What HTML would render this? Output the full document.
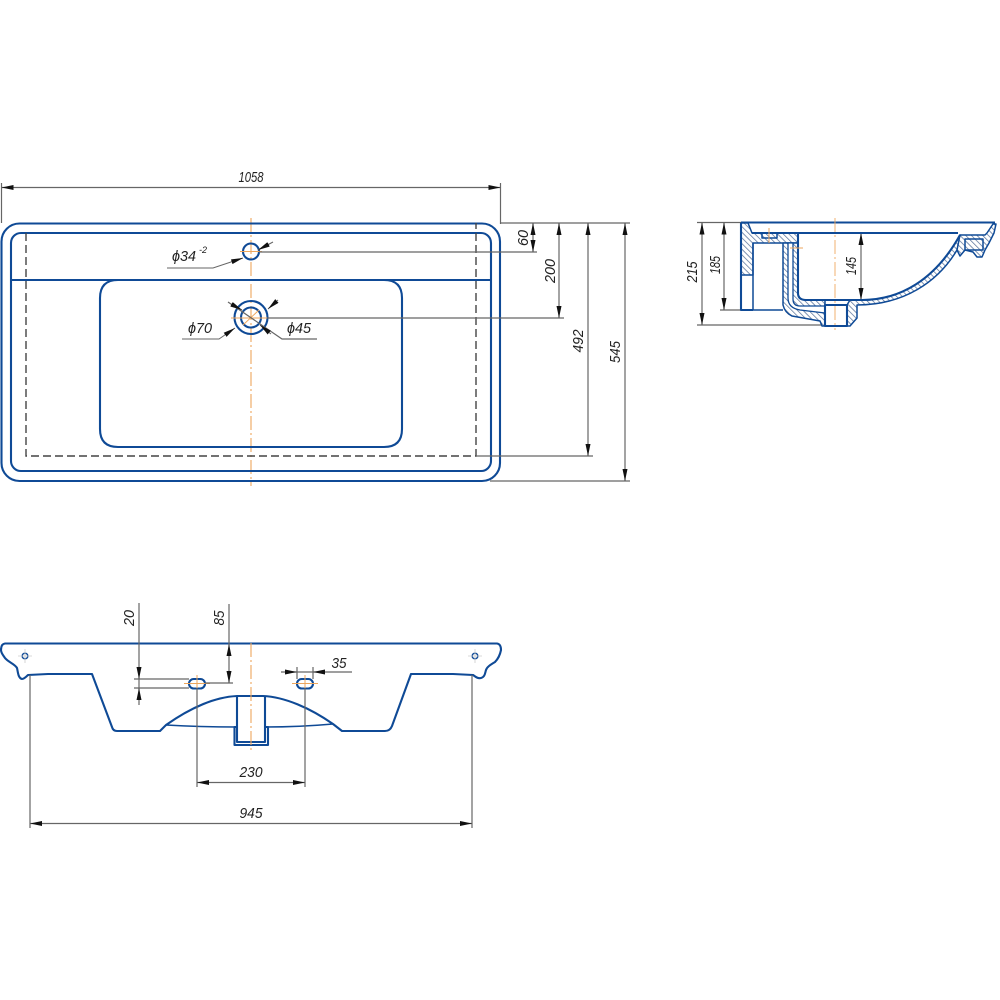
<!DOCTYPE html>
<html><head><meta charset="utf-8"><style>
html,body{margin:0;padding:0;background:#fff}
svg{display:block}
text{font-family:"Liberation Sans",sans-serif;font-style:italic;font-size:15px;fill:#222;text-anchor:middle}
.o{fill:none;stroke:#0f4a96;stroke-width:2.1;stroke-linejoin:round}
.t{fill:none;stroke:#0f4a96;stroke-width:1.5;stroke-linejoin:round}
.d{fill:none;stroke:#666;stroke-width:1.2}
.a{fill:none;stroke:#666;stroke-width:1.2;marker-start:url(#ar);marker-end:url(#ae)}
.m{fill:none;stroke:#666;stroke-width:1;marker-end:url(#ae)}
.c{fill:none;stroke:#eda65c;stroke-width:1.1;stroke-dasharray:14 3 2 3}
.k{fill:none;stroke:#444;stroke-width:1.4;stroke-dasharray:8 4}
.h{fill:url(#hatch);stroke:#0f4a96;stroke-width:1.5;stroke-linejoin:round}
</style></head><body>
<svg width="1000" height="1000" viewBox="0 0 1000 1000" xmlns="http://www.w3.org/2000/svg">
<defs>
<marker id="ae" markerUnits="userSpaceOnUse" markerWidth="13" markerHeight="6" refX="12" refY="2.5" orient="auto"><path d="M0 0L12 2.5L0 5Z" fill="#111"/></marker>
<marker id="ar" markerUnits="userSpaceOnUse" markerWidth="13" markerHeight="6" refX="0" refY="2.5" orient="auto"><path d="M12 0L0 2.5L12 5Z" fill="#111"/></marker>
<pattern id="hatch" width="4" height="4" patternUnits="userSpaceOnUse" patternTransform="rotate(-45)"><rect width="4" height="4" fill="#fff"/><line x1="0" y1="0" x2="0" y2="4" stroke="#4f6a94" stroke-width="1.4"/></pattern>
</defs>
<rect width="1000" height="1000" fill="#fff"/>

<!-- TOP VIEW -->
<path class="c" d="M251 218V486"/>
<path class="d" d="M1.5 183V223M500.500 183V224"/>
<path class="a" d="M1.500 187.500H500.500"/>
<text x="251" y="182" textLength="25" lengthAdjust="spacingAndGlyphs">1058</text>
<rect class="o" x="1.500" y="223.500" width="498.500" height="257.500" rx="18"/>
<rect class="o" x="11" y="233" width="480" height="238" rx="10"/>
<path class="o" d="M11 280H491"/>
<path class="o" d="M118 280Q100 280 100 298V429Q100 447 118 447H384Q402 447 402 429V298Q402 280 384 280"/>
<path class="k" d="M26 233V456H476V223"/>
<circle class="o" cx="251" cy="251.500" r="8"/>
<circle class="o" cx="251" cy="317.500" r="16.500"/>
<circle class="o" cx="251" cy="317.500" r="10"/>
<path d="M240 251.500H262M231 318H271M243 325L259 310" stroke="#eda65c" stroke-width="1" fill="none"/>
<path class="d" d="M259 252H537M267 318H564M500 223H630M476 456H593M490 481H630"/>
<path class="m" d="M167 268H213L243 258"/>
<path class="m" d="M273 242L258 250"/>
<path class="m" d="M182 339H219L235 328"/>
<path class="m" d="M278 300L268 309"/>
<path class="d" d="M317 339H282L228 302"/>
<path class="m" d="M231 304L242 310"/>
<path class="m" d="M271 334L260 325"/>
<text x="184" y="261" textLength="24" lengthAdjust="spacingAndGlyphs">ϕ34</text>
<text x="203" y="253" style="font-size:9px">-2</text>
<text x="200" y="333" textLength="24" lengthAdjust="spacingAndGlyphs">ϕ70</text>
<text x="299" y="333" textLength="24" lengthAdjust="spacingAndGlyphs">ϕ45</text>
<path class="a" d="M533 223V252"/>
<path class="a" d="M559 223V318"/>
<path class="a" d="M588 223V456"/>
<path class="a" d="M625 223V481"/>
<text transform="translate(528,238) rotate(-90)" textLength="16" lengthAdjust="spacingAndGlyphs">60</text>
<text transform="translate(555,271) rotate(-90)" textLength="24" lengthAdjust="spacingAndGlyphs">200</text>
<text transform="translate(583,341) rotate(-90)" textLength="23" lengthAdjust="spacingAndGlyphs">492</text>
<text transform="translate(620,352) rotate(-90)" textLength="22" lengthAdjust="spacingAndGlyphs">545</text>

<!-- SECTION VIEW -->
<path class="d" d="M697 222.500H741M697 325H825M720 310H741M845 233H866"/>
<path class="a" d="M702 222.500V325"/>
<path class="a" d="M724 222.500V310"/>
<path class="a" d="M861 233V300"/>
<text transform="translate(697,272) rotate(-90)" textLength="21" lengthAdjust="spacingAndGlyphs">215</text>
<text transform="translate(720,265) rotate(-90)" textLength="18" lengthAdjust="spacingAndGlyphs">185</text>
<text transform="translate(856,266) rotate(-90)" textLength="18" lengthAdjust="spacingAndGlyphs">145</text>
<!-- left wall + ledge -->
<path class="h" d="M741 223H748L752 233H798V243H753V275H741Z"/>
<rect x="762" y="233" width="15" height="5" fill="#fff" class="t"/>
<path class="t" d="M741 275V310H753V275M753 243V310H783"/>
<!-- double wall and floor -->
<path class="h" d="M783 243H798V293Q798 300 806 300H825V326H822L820 321L792 316Q785 313 783 305Z"/>
<path d="M788 243H793V299Q793 306 800 306H825V313L800 310Q788 308 788 298Z" fill="#fff" stroke="#0f4a96" stroke-width="1.300"/>
<!-- flange and bowl shell -->
<path class="h" d="M847 305L850 300H862C900 300 935 280 960 235L962 241C940 285 900 305 857 305V318L850 326H847Z"/>
<!-- rim -->
<path class="h" d="M960 235H985L987 233L993 224H996L994 233L989 243L985 250L982 257H977L973 252L965 250L960 256L957 250Z"/>
<rect x="965" y="239" width="18" height="11" fill="#fff" class="t"/>
<rect x="825" y="305" width="22" height="21" fill="#fff" class="o"/>
<path class="o" d="M741 222.500H995M752 233H958M741 223V310H753M798 233V293Q798 300 806 300H862C900 300 935 280 960 235"/>
<path class="c" d="M835 218V330" style="opacity:.8"/>
<path d="M790 248H803M769 228V243" stroke="#eda65c" stroke-width="1" fill="none"/>

<!-- BOTTOM VIEW -->
<path class="o" d="M5 643.500H497Q501 644 501 650C500 655 498 659 495 662C490 665 487 667 486 670C485 673 485 677 481 678C477 679 475 676 473 675L453 674H411L392 726Q390 731 385 731H342L333 724C310 708 285 697 263 696H237C215 697 190 708 166 725L160 731H117Q113 731 112 727L92 674H48L28 675C26 677 24 679 22 679C18 678 18 672 17 668C15 664 8 662 5 658C3 655 1 653 1 650Q1 644 5 643.500Z"/>
<path class="t" d="M166 725Q200 727 237 727M333 724Q300 727 265 727"/>
<path class="o" d="M237 696V742H265V696M237 727H234.500V745H268V727H265"/>
<rect class="o" x="189" y="679" width="16" height="9.500" rx="4.700"/>
<rect class="o" x="297" y="679" width="16" height="9.500" rx="4.700"/>
<circle class="t" cx="25" cy="656" r="2.800"/>
<circle class="t" cx="475" cy="656" r="2.800"/>
<path class="c" d="M251 643V750"/>
<path d="M184 683.500H210M292 683.500H318M197 675V692M305 675V692" stroke="#eda65c" stroke-width="1" fill="none"/>
<path d="M18 656H32M25 649V663M468 656H482M475 649V663" stroke="#ccc" stroke-width=".8" fill="none"/>
<path class="d" d="M134 679H189M134 688H189M205 683H233M139 603V705M229 604V683M197 688V787M305 688V787M30 675V828M472 675V828M297 667V679M313 667V679M281 672H352"/>
<path d="M139 679L136.500 667H141.500ZM139 688L136.500 700H141.500ZM229 644L226.500 656H231.500ZM229 683L226.500 671H231.500ZM297 672L285 669.500V674.500ZM313 672L325 669.500V674.500Z" fill="#111"/>
<path class="a" d="M197 782.500H305"/>
<path class="a" d="M30 823.500H472"/>
<text transform="translate(134,618) rotate(-90)" textLength="16" lengthAdjust="spacingAndGlyphs">20</text>
<text transform="translate(224,618) rotate(-90)" textLength="15" lengthAdjust="spacingAndGlyphs">85</text>
<text x="339" y="668" textLength="15" lengthAdjust="spacingAndGlyphs">35</text>
<text x="251" y="777" textLength="23" lengthAdjust="spacingAndGlyphs">230</text>
<text x="251" y="818" textLength="23" lengthAdjust="spacingAndGlyphs">945</text>
</svg>
</body></html>
